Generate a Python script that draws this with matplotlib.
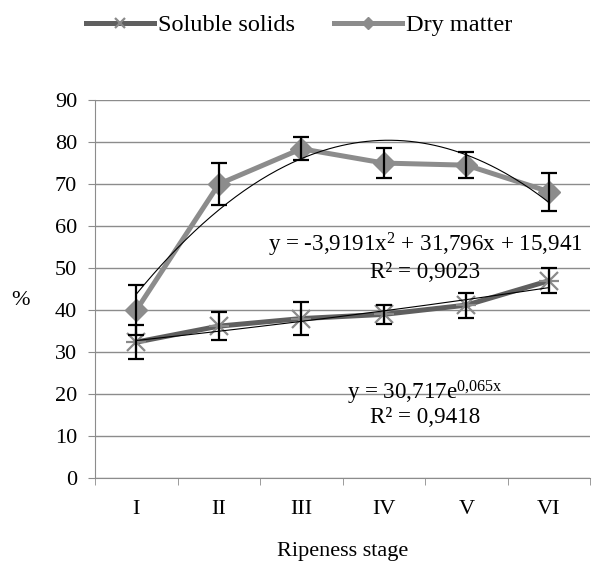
import numpy as np
import matplotlib.pyplot as plt

stages = ["I", "II", "III", "IV", "V", "VI"]
soluble = [32.4, 36.2, 38.0, 39.0, 41.2, 47.0]
soluble_err = [4.0, 3.3, 4.0, 2.2, 3.0, 3.0]
dry = [40.0, 70.0, 78.4, 75.0, 74.5, 68.2]
dry_err = [6.0, 5.0, 2.7, 3.6, 3.1, 4.5]

# trendline coefficients as printed on the chart
poly_coef = [-3.9191, 31.796, 15.941]
exp_a, exp_b = 30.717, 0.065

plt.rcParams['font.family'] = ['Liberation Serif', 'DejaVu Serif']
plt.rcParams['mathtext.fontset'] = 'custom'
plt.rcParams['mathtext.rm'] = 'Liberation Serif'
plt.rcParams['mathtext.it'] = 'Liberation Serif'
fs = 16

fig = plt.figure(figsize=(5.98, 5.62), dpi=100)
ax = fig.add_axes([0.159, 0.149, 0.828, 0.673])

x = np.arange(len(stages))

ax.plot(x, soluble, color="#5f5f5f", lw=3.6, marker="x", markersize=13,
        markeredgewidth=1.6, markeredgecolor="#8a8a8a", label="Soluble solids", zorder=3)
ax.plot(x, dry, color="#8c8c8c", lw=3.6, marker="D", markersize=11,
        markerfacecolor="#8c8c8c", markeredgecolor="#8c8c8c", label="Dry matter", zorder=3)
ax.plot(x, soluble, color="#8a8a8a", lw=0, marker="+", markersize=15,
        markeredgewidth=1.6, zorder=3)
ax.errorbar(x, soluble, yerr=soluble_err, fmt="none", ecolor="black",
            elinewidth=1.6, capsize=6, capthick=1.6, zorder=4)
ax.errorbar(x, dry, yerr=dry_err, fmt="none", ecolor="black",
            elinewidth=1.6, capsize=6, capthick=1.6, zorder=4)

# trendlines
xt = np.linspace(0, 5, 200)
ax.plot(xt, np.polyval(poly_coef, xt + 1), color="black", lw=0.8, zorder=5)
ax.plot(xt, exp_a * np.exp(exp_b * (xt + 1)), color="black", lw=0.8, zorder=5)

ax.text(3.5, 55.5, "y = -3,9191x$^{2}$ + 31,796x + 15,941", ha="center",
        va="center", fontsize=16.6)
ax.text(3.5, 49.0, "R² = 0,9023", ha="center", va="center", fontsize=16.6)
ax.text(3.5, 20.4, "y = 30,717e$^{0{,}065x}$", ha="center", va="center", fontsize=16.6)
ax.text(3.5, 14.5, "R² = 0,9418", ha="center", va="center", fontsize=16.6)

ax.set_xlim(-0.5, 5.5)
ax.set_ylim(0, 90)
ax.set_yticks(range(0, 91, 10))
ax.set_xticks(x)
ax.set_xticklabels(stages)
ax.set_xticks(np.arange(-0.5, 6, 1), minor=True)
ax.tick_params(axis="x", which="major", length=0, pad=16, labelsize=fs)
ax.tick_params(axis="x", which="minor", length=5, color="#8c8c8c")
ax.tick_params(axis="y", length=5, color="#8c8c8c", pad=8, labelsize=fs)
ax.yaxis.grid(True, color="#8c8c8c", lw=1)
ax.set_axisbelow(True)
for s in ["top", "right"]:
    ax.spines[s].set_visible(False)
for s in ["left", "bottom"]:
    ax.spines[s].set_color("#8c8c8c")

ax.set_xlabel("Ripeness stage", fontsize=fs, labelpad=16)
ax.set_ylabel("%", fontsize=fs, rotation=0, va="center")
ax.yaxis.set_label_coords(-0.15, 0.47)

fig.legend(loc="center", bbox_to_anchor=(0.5, 0.955), ncol=2, frameon=False,
           fontsize=17.5, handlelength=2.8, handletextpad=0.15, columnspacing=1.6,
           markerscale=0.6)

fig.savefig("out.png", dpi=100)
